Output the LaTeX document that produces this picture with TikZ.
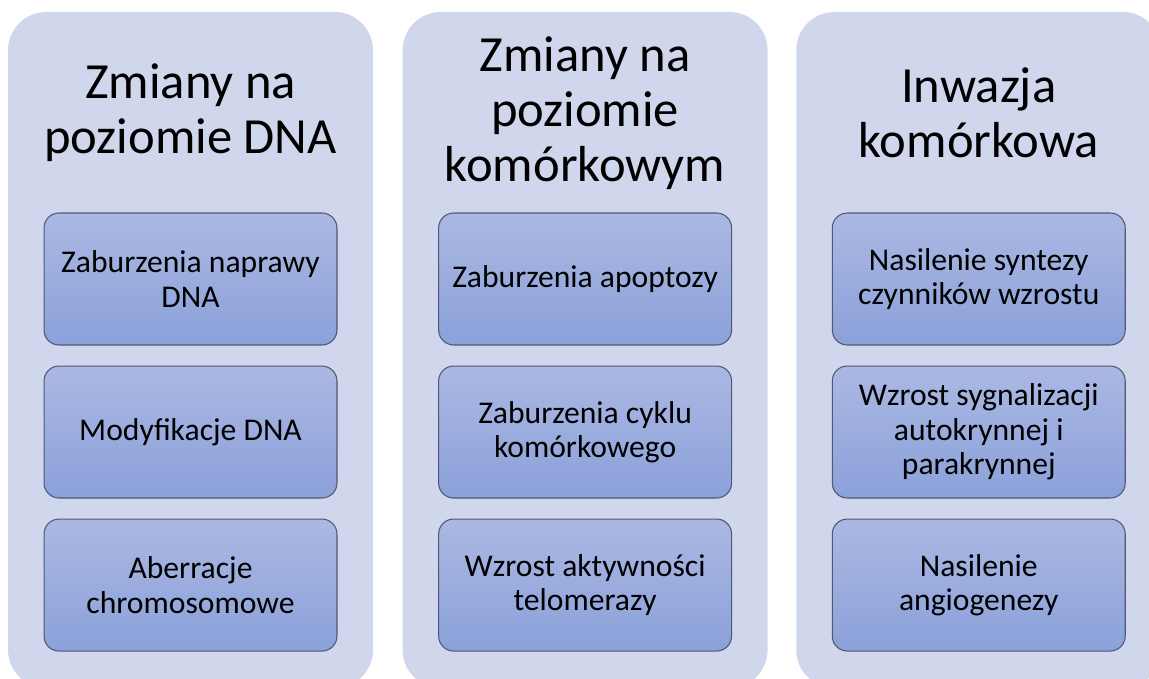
\documentclass[tikz,border=0pt]{standalone}
\usepackage{fontspec}
\setmainfont{Carlito}
\usetikzlibrary{positioning,shadings}
\definecolor{panelfill}{RGB}{208,214,236}
\definecolor{boxtop}{RGB}{171,184,226}
\definecolor{boxbottom}{RGB}{139,161,218}
\definecolor{boxline}{RGB}{78,88,116}
\tikzset{
panel/.style={
  rectangle,
  rounded corners=0.76cm,
  fill=panelfill,
  minimum width=7.3cm,
  minimum height=13.52cm,
  inner sep=0pt,
  }
}
\tikzset{
itembox/.style={
  rectangle,
  rounded corners=0.3cm,
  draw=boxline,
  line width=0.6pt,
  top color=boxtop,
  bottom color=boxbottom,
  minimum width=5.86cm,
  minimum height=2.64cm,
  inner sep=2pt,
  align=center,
  font=\fontsize{18}{19.6}\selectfont,
  }
}
\tikzset{
paneltitle/.style={
  align=center,
  inner sep=0pt,
  font=\fontsize{28.8}{31.2}\selectfont,
  }
}

\begin{document}
\begin{tikzpicture}[x=0.02cm,y=-0.02cm,node distance=0.4cm and 0.58cm]
    \useasboundingbox (0,0) rectangle (1149,679);

    % panels
    \node[panel] (dna) at (190.5,350) {};
    \node[panel, right=of dna] (cell) {};
    \node[panel, right=0.56cm of cell] (inv) {};

    % titles
    \node[paneltitle] (dna_t) at (dna.center |- 0,113) {Zmiany na\\poziomie DNA};
    \node[paneltitle] (cell_t) at (cell.center |- 0,113) {Zmiany na\\poziomie\\komórkowym};
    \node[paneltitle] (inv_t) at (inv.center |- 0,113) {Inwazja\\komórkowa};

    % DNA column
    \node[itembox] (dna_a) at (dna.center |- 0,279) {Zaburzenia naprawy\\DNA};
    \node[itembox, below=of dna_a] (dna_b) {Modyfikacje DNA};
    \node[itembox, below=of dna_b] (dna_c) {Aberracje\\chromosomowe};

    % cell column
    \node[itembox] (cell_a) at (cell.center |- 0,279) {Zaburzenia apoptozy};
    \node[itembox, below=of cell_a] (cell_b) {Zaburzenia cyklu\\komórkowego};
    \node[itembox, below=of cell_b] (cell_c) {Wzrost aktywności\\telomerazy};

    % invasion column
    \node[itembox] (inv_a) at (inv.center |- 0,279) {Nasilenie syntezy\\czynników wzrostu};
    \node[itembox, below=of inv_a] (inv_b) {Wzrost sygnalizacji\\autokrynnej i\\parakrynnej};
    \node[itembox, below=of inv_b] (inv_c) {Nasilenie\\angiogenezy};
  \end{tikzpicture}
\end{document}
